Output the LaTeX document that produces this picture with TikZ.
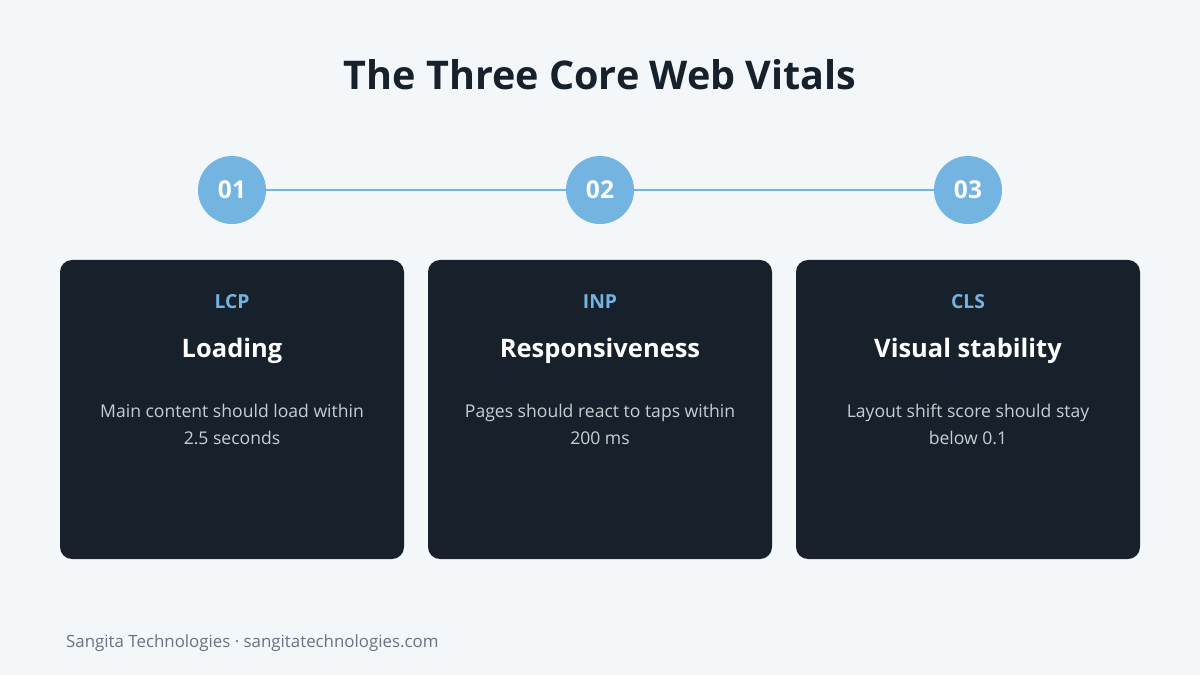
\documentclass[tikz,border=0pt]{standalone}
\usepackage{fontspec}
\setmainfont{Open Sans}
\definecolor{bg}{HTML}{F3F7FA}
\definecolor{dark}{HTML}{16212B}
\definecolor{acc}{HTML}{74B4E0}
\definecolor{desc}{HTML}{C9CED3}
\definecolor{foot}{HTML}{6B7280}
\begin{document}
\begin{tikzpicture}[x=0.02cm,y=-0.02cm,
  circ/.style={circle,fill=acc,minimum size=68*0.02cm,inner sep=0,text=white,font=\fontsize{14}{16}\selectfont\bfseries},
  card/.style={fill=dark,rounded corners=0.24cm},
  abbr/.style={text=acc,font=\fontsize{11}{13}\selectfont\bfseries},
  head/.style={text=white,font=\fontsize{14.5}{17}\selectfont\bfseries},
  dsc/.style={text=desc,align=center,font=\fontsize{10}{15.3}\selectfont}]
\fill[bg] (0,0) rectangle (1200,675);
\useasboundingbox (0,0) rectangle (1200,675);
\node[text=dark,font=\fontsize{22.5}{26}\selectfont\bfseries] (title) at (600,75) {The Three Core Web Vitals};
\node[circ] (c1) at (232,190) {01};
\node[circ] (c2) at (600,190) {02};
\node[circ] (c3) at (968,190) {03};
\begin{scope}[on background layer/.try]
\end{scope}
\draw[acc,line width=1.7pt] (c1) -- (c2);
\draw[acc,line width=1.7pt] (c2) -- (c3);
\foreach \x/\a/\h/\l/\m [count=\i] in {232/LCP/Loading/Main content should load within/2.5 seconds,600/INP/Responsiveness/Pages should react to taps within/200 ms,968/CLS/Visual stability/Layout shift score should stay/below 0.1}{
  \fill[card] (\x-172,260) rectangle (\x+172,559);
  \node[abbr] (a\i) at (\x,302) {\a};
  \node[head] (h\i) at (\x,351) {\h};
  \node[dsc,anchor=north] (d\i) at (\x,398) {\l\\\m};
}
\node[text=foot,anchor=west,font=\fontsize{9.6}{11}\selectfont] (f) at (60,643) {Sangita Technologies · sangitatechnologies.com};
\end{tikzpicture}
\end{document}
